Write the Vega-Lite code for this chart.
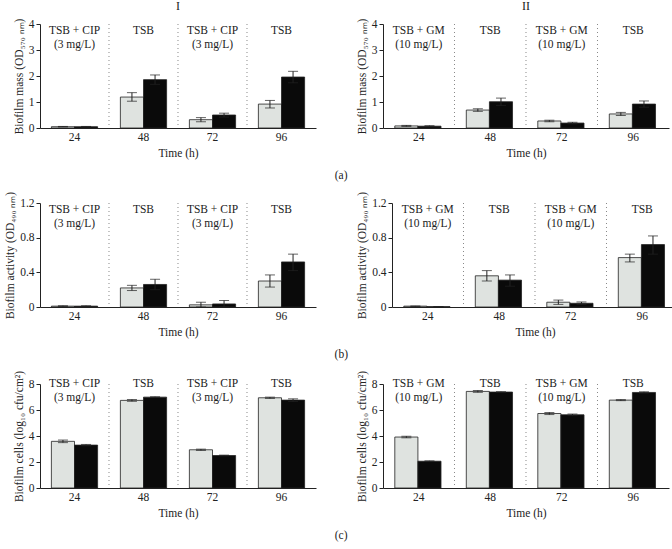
{
  "$schema": "https://vega.github.io/schema/vega-lite/v6.json",
  "padding": {"left": 4, "top": 0, "right": 2, "bottom": 2},
  "background": "white",
  "config": {
    "view": {"stroke": null},
    "font": "Liberation Serif",
    "axis": {"labelFont": "Liberation Serif", "titleFont": "Liberation Serif", "labelFontSize": 11.5, "titleFontSize": 11.5, "titleFontWeight": "normal", "domainColor": "#222", "tickColor": "#222", "labelColor": "#222", "titleColor": "#222", "grid": false},
    "axisX": {"titleFontWeight": "normal"},
    "axisY": {"titleFontWeight": "normal"},
    "title": {"font": "Liberation Serif", "fontSize": 12, "fontWeight": "normal", "color": "#222"}
  },
  "datasets": {
    "bars": [
      {"p": "aI", "t": "24", "s": "A", "v": 0.05, "lo": 0.04, "hi": 0.06},
      {"p": "aI", "t": "24", "s": "B", "v": 0.05, "lo": 0.04, "hi": 0.06},
      {"p": "aI", "t": "48", "s": "A", "v": 1.19, "lo": 1.03, "hi": 1.36},
      {"p": "aI", "t": "48", "s": "B", "v": 1.86, "lo": 1.68, "hi": 2.04},
      {"p": "aI", "t": "72", "s": "A", "v": 0.32, "lo": 0.24, "hi": 0.4},
      {"p": "aI", "t": "72", "s": "B", "v": 0.5, "lo": 0.42, "hi": 0.57},
      {"p": "aI", "t": "96", "s": "A", "v": 0.92, "lo": 0.77, "hi": 1.06},
      {"p": "aI", "t": "96", "s": "B", "v": 1.96, "lo": 1.74, "hi": 2.18},
      {"p": "aII", "t": "24", "s": "A", "v": 0.08, "lo": 0.06, "hi": 0.1},
      {"p": "aII", "t": "24", "s": "B", "v": 0.07, "lo": 0.05, "hi": 0.09},
      {"p": "aII", "t": "48", "s": "A", "v": 0.69, "lo": 0.64, "hi": 0.74},
      {"p": "aII", "t": "48", "s": "B", "v": 1.01, "lo": 0.87, "hi": 1.15},
      {"p": "aII", "t": "72", "s": "A", "v": 0.27, "lo": 0.24, "hi": 0.3},
      {"p": "aII", "t": "72", "s": "B", "v": 0.19, "lo": 0.16, "hi": 0.22},
      {"p": "aII", "t": "96", "s": "A", "v": 0.54, "lo": 0.48, "hi": 0.6},
      {"p": "aII", "t": "96", "s": "B", "v": 0.92, "lo": 0.8, "hi": 1.04},
      {"p": "bI", "t": "24", "s": "A", "v": 0.01, "lo": 0.005, "hi": 0.015},
      {"p": "bI", "t": "24", "s": "B", "v": 0.01, "lo": 0.005, "hi": 0.015},
      {"p": "bI", "t": "48", "s": "A", "v": 0.22, "lo": 0.19, "hi": 0.25},
      {"p": "bI", "t": "48", "s": "B", "v": 0.26, "lo": 0.2, "hi": 0.32},
      {"p": "bI", "t": "72", "s": "A", "v": 0.025, "lo": 0.0, "hi": 0.055},
      {"p": "bI", "t": "72", "s": "B", "v": 0.035, "lo": 0.0, "hi": 0.075},
      {"p": "bI", "t": "96", "s": "A", "v": 0.3, "lo": 0.23, "hi": 0.37},
      {"p": "bI", "t": "96", "s": "B", "v": 0.52, "lo": 0.42, "hi": 0.61},
      {"p": "bII", "t": "24", "s": "A", "v": 0.01, "lo": 0.005, "hi": 0.012},
      {"p": "bII", "t": "24", "s": "B", "v": 0.004, "lo": 0.002, "hi": 0.006},
      {"p": "bII", "t": "48", "s": "A", "v": 0.36, "lo": 0.3, "hi": 0.42},
      {"p": "bII", "t": "48", "s": "B", "v": 0.31, "lo": 0.24, "hi": 0.37},
      {"p": "bII", "t": "72", "s": "A", "v": 0.055, "lo": 0.03, "hi": 0.08},
      {"p": "bII", "t": "72", "s": "B", "v": 0.043, "lo": 0.03, "hi": 0.058},
      {"p": "bII", "t": "96", "s": "A", "v": 0.57, "lo": 0.52, "hi": 0.61},
      {"p": "bII", "t": "96", "s": "B", "v": 0.72, "lo": 0.61, "hi": 0.82},
      {"p": "cI", "t": "24", "s": "A", "v": 3.59, "lo": 3.49, "hi": 3.69},
      {"p": "cI", "t": "24", "s": "B", "v": 3.3, "lo": 3.25, "hi": 3.35},
      {"p": "cI", "t": "48", "s": "A", "v": 6.74, "lo": 6.67, "hi": 6.81},
      {"p": "cI", "t": "48", "s": "B", "v": 6.99, "lo": 6.96, "hi": 7.02},
      {"p": "cI", "t": "72", "s": "A", "v": 2.94, "lo": 2.89, "hi": 2.99},
      {"p": "cI", "t": "72", "s": "B", "v": 2.5, "lo": 2.47, "hi": 2.53},
      {"p": "cI", "t": "96", "s": "A", "v": 6.94, "lo": 6.89, "hi": 6.99},
      {"p": "cI", "t": "96", "s": "B", "v": 6.76, "lo": 6.66, "hi": 6.86},
      {"p": "cII", "t": "24", "s": "A", "v": 3.92, "lo": 3.86, "hi": 3.98},
      {"p": "cII", "t": "24", "s": "B", "v": 2.06, "lo": 2.03, "hi": 2.09},
      {"p": "cII", "t": "48", "s": "A", "v": 7.43, "lo": 7.36, "hi": 7.5},
      {"p": "cII", "t": "48", "s": "B", "v": 7.38, "lo": 7.35, "hi": 7.41},
      {"p": "cII", "t": "72", "s": "A", "v": 5.73, "lo": 5.65, "hi": 5.81},
      {"p": "cII", "t": "72", "s": "B", "v": 5.63, "lo": 5.57, "hi": 5.69},
      {"p": "cII", "t": "96", "s": "A", "v": 6.76, "lo": 6.72, "hi": 6.8},
      {"p": "cII", "t": "96", "s": "B", "v": 7.35, "lo": 7.3, "hi": 7.4}
    ],
    "labels": [
      {"c": "I", "t": "24", "label": "TSB + CIP\n(3 mg/L)"},
      {"c": "I", "t": "48", "label": "TSB"},
      {"c": "I", "t": "72", "label": "TSB + CIP\n(3 mg/L)"},
      {"c": "I", "t": "96", "label": "TSB"},
      {"c": "II", "t": "24", "label": "TSB + GM\n(10 mg/L)"},
      {"c": "II", "t": "48", "label": "TSB"},
      {"c": "II", "t": "72", "label": "TSB + GM\n(10 mg/L)"},
      {"c": "II", "t": "96", "label": "TSB"}
    ],
    "seps": [{"t": "24"}, {"t": "48"}, {"t": "72"}]
  },
  "spacing": 9,
  "vconcat": [
    {
      "title": {"text": "(a)", "orient": "bottom", "anchor": "middle", "fontSize": 11.5, "offset": 11},
      "spacing": 40,
      "hconcat": [
        {
          "title": {"text": "I", "offset": 5},
          "width": 276, "height": 104,
          "encoding": {
            "x": {"field": "t", "type": "nominal", "scale": {"paddingInner": 0.33, "paddingOuter": 0.165}, "axis": {"title": "Time (h)", "titleFontWeight": "normal", "labelAngle": 0, "ticks": false, "labelPadding": 3, "titlePadding": 5}},
            "y": {"type": "quantitative", "scale": {"domain": [0, 4], "nice": false}, "axis": {"title": "Biofilm mass (OD₅₇₀ ₙₘ)", "titleFontWeight": "normal", "values": [0, 1, 2, 3, 4], "tickSize": 4, "labelPadding": 2, "titlePadding": 4}}
          },
          "layer": [
            {"data": {"name": "seps"}, "mark": {"type": "rule", "strokeDash": [1, 3], "color": "#888"}, "encoding": {"x": {"field": "t", "type": "nominal", "bandPosition": 1.246}, "y": null}},
            {"data": {"name": "bars"}, "transform": [{"filter": "datum.p == 'aI'"}], "mark": {"type": "bar", "stroke": "#222", "strokeWidth": 0.8}, "encoding": {"xOffset": {"field": "s"}, "y": {"field": "v", "type": "quantitative"}, "color": {"field": "s", "scale": {"range": ["#dfe3e0", "#0a0a0a"]}, "legend": null}}},
            {"data": {"name": "bars"}, "transform": [{"filter": "datum.p == 'aI'"}], "mark": {"type": "rule", "color": "#222"}, "encoding": {"xOffset": {"field": "s"}, "y": {"field": "lo", "type": "quantitative"}, "y2": {"field": "hi"}}},
            {"data": {"name": "bars"}, "transform": [{"filter": "datum.p == 'aI'"}], "mark": {"type": "tick", "color": "#222", "size": 10, "thickness": 1}, "encoding": {"xOffset": {"field": "s"}, "y": {"field": "hi", "type": "quantitative"}}},
            {"data": {"name": "bars"}, "transform": [{"filter": "datum.p == 'aI'"}], "mark": {"type": "tick", "color": "#222", "size": 10, "thickness": 1}, "encoding": {"xOffset": {"field": "s"}, "y": {"field": "lo", "type": "quantitative"}}},
            {"data": {"name": "labels"}, "transform": [{"filter": "datum.c == 'I'"}], "mark": {"type": "text", "baseline": "top", "lineBreak": "\n", "fontSize": 11.5, "lineHeight": 14, "dy": 1, "color": "#222"}, "encoding": {"y": {"datum": 4, "type": "quantitative"}, "text": {"field": "label"}}}
          ]
        },
        {
          "title": {"text": "II", "offset": 5},
          "width": 286, "height": 104,
          "encoding": {
            "x": {"field": "t", "type": "nominal", "scale": {"paddingInner": 0.33, "paddingOuter": 0.165}, "axis": {"title": "Time (h)", "titleFontWeight": "normal", "labelAngle": 0, "ticks": false, "labelPadding": 3, "titlePadding": 5}},
            "y": {"type": "quantitative", "scale": {"domain": [0, 4], "nice": false}, "axis": {"title": "Biofilm mass (OD₅₇₀ ₙₘ)", "titleFontWeight": "normal", "values": [0, 1, 2, 3, 4], "tickSize": 4, "labelPadding": 2, "titlePadding": 4}}
          },
          "layer": [
            {"data": {"name": "seps"}, "mark": {"type": "rule", "strokeDash": [1, 3], "color": "#888"}, "encoding": {"x": {"field": "t", "type": "nominal", "bandPosition": 1.246}, "y": null}},
            {"data": {"name": "bars"}, "transform": [{"filter": "datum.p == 'aII'"}], "mark": {"type": "bar", "stroke": "#222", "strokeWidth": 0.8}, "encoding": {"xOffset": {"field": "s"}, "y": {"field": "v", "type": "quantitative"}, "color": {"field": "s", "scale": {"range": ["#dfe3e0", "#0a0a0a"]}, "legend": null}}},
            {"data": {"name": "bars"}, "transform": [{"filter": "datum.p == 'aII'"}], "mark": {"type": "rule", "color": "#222"}, "encoding": {"xOffset": {"field": "s"}, "y": {"field": "lo", "type": "quantitative"}, "y2": {"field": "hi"}}},
            {"data": {"name": "bars"}, "transform": [{"filter": "datum.p == 'aII'"}], "mark": {"type": "tick", "color": "#222", "size": 10, "thickness": 1}, "encoding": {"xOffset": {"field": "s"}, "y": {"field": "hi", "type": "quantitative"}}},
            {"data": {"name": "bars"}, "transform": [{"filter": "datum.p == 'aII'"}], "mark": {"type": "tick", "color": "#222", "size": 10, "thickness": 1}, "encoding": {"xOffset": {"field": "s"}, "y": {"field": "lo", "type": "quantitative"}}},
            {"data": {"name": "labels"}, "transform": [{"filter": "datum.c == 'II'"}], "mark": {"type": "text", "baseline": "top", "lineBreak": "\n", "fontSize": 11.5, "lineHeight": 14, "dy": 1, "color": "#222"}, "encoding": {"y": {"datum": 4, "type": "quantitative"}, "text": {"field": "label"}}}
          ]
        }
      ]
    },
    {
      "title": {"text": "(b)", "orient": "bottom", "anchor": "middle", "fontSize": 11.5, "offset": 11},
      "spacing": 40,
      "hconcat": [
        {
          "width": 276, "height": 104,
          "encoding": {
            "x": {"field": "t", "type": "nominal", "scale": {"paddingInner": 0.33, "paddingOuter": 0.165}, "axis": {"title": "Time (h)", "titleFontWeight": "normal", "labelAngle": 0, "ticks": false, "labelPadding": 3, "titlePadding": 5}},
            "y": {"type": "quantitative", "scale": {"domain": [0, 1.2], "nice": false}, "axis": {"title": "Biofilm activity (OD₄₉₀ ₙₘ)", "titleFontWeight": "normal", "values": [0, 0.4, 0.8, 1.2], "labelExpr": "datum.value == 0 ? '0' : format(datum.value, '.1f')", "tickSize": 4, "labelPadding": 2, "titlePadding": 4}}
          },
          "layer": [
            {"data": {"name": "seps"}, "mark": {"type": "rule", "strokeDash": [1, 3], "color": "#888"}, "encoding": {"x": {"field": "t", "type": "nominal", "bandPosition": 1.246}, "y": null}},
            {"data": {"name": "bars"}, "transform": [{"filter": "datum.p == 'bI'"}], "mark": {"type": "bar", "stroke": "#222", "strokeWidth": 0.8}, "encoding": {"xOffset": {"field": "s"}, "y": {"field": "v", "type": "quantitative"}, "color": {"field": "s", "scale": {"range": ["#dfe3e0", "#0a0a0a"]}, "legend": null}}},
            {"data": {"name": "bars"}, "transform": [{"filter": "datum.p == 'bI'"}], "mark": {"type": "rule", "color": "#222"}, "encoding": {"xOffset": {"field": "s"}, "y": {"field": "lo", "type": "quantitative"}, "y2": {"field": "hi"}}},
            {"data": {"name": "bars"}, "transform": [{"filter": "datum.p == 'bI'"}], "mark": {"type": "tick", "color": "#222", "size": 10, "thickness": 1}, "encoding": {"xOffset": {"field": "s"}, "y": {"field": "hi", "type": "quantitative"}}},
            {"data": {"name": "bars"}, "transform": [{"filter": "datum.p == 'bI'"}], "mark": {"type": "tick", "color": "#222", "size": 10, "thickness": 1}, "encoding": {"xOffset": {"field": "s"}, "y": {"field": "lo", "type": "quantitative"}}},
            {"data": {"name": "labels"}, "transform": [{"filter": "datum.c == 'I'"}], "mark": {"type": "text", "baseline": "top", "lineBreak": "\n", "fontSize": 11.5, "lineHeight": 14, "dy": 1, "color": "#222"}, "encoding": {"y": {"datum": 1.2, "type": "quantitative"}, "text": {"field": "label"}}}
          ]
        },
        {
          "width": 286, "height": 104,
          "encoding": {
            "x": {"field": "t", "type": "nominal", "scale": {"paddingInner": 0.33, "paddingOuter": 0.165}, "axis": {"title": "Time (h)", "titleFontWeight": "normal", "labelAngle": 0, "ticks": false, "labelPadding": 3, "titlePadding": 5}},
            "y": {"type": "quantitative", "scale": {"domain": [0, 1.2], "nice": false}, "axis": {"title": "Biofilm activity (OD₄₉₀ ₙₘ)", "titleFontWeight": "normal", "values": [0, 0.4, 0.8, 1.2], "labelExpr": "datum.value == 0 ? '0' : format(datum.value, '.1f')", "tickSize": 4, "labelPadding": 2, "titlePadding": 4}}
          },
          "layer": [
            {"data": {"name": "seps"}, "mark": {"type": "rule", "strokeDash": [1, 3], "color": "#888"}, "encoding": {"x": {"field": "t", "type": "nominal", "bandPosition": 1.246}, "y": null}},
            {"data": {"name": "bars"}, "transform": [{"filter": "datum.p == 'bII'"}], "mark": {"type": "bar", "stroke": "#222", "strokeWidth": 0.8}, "encoding": {"xOffset": {"field": "s"}, "y": {"field": "v", "type": "quantitative"}, "color": {"field": "s", "scale": {"range": ["#dfe3e0", "#0a0a0a"]}, "legend": null}}},
            {"data": {"name": "bars"}, "transform": [{"filter": "datum.p == 'bII'"}], "mark": {"type": "rule", "color": "#222"}, "encoding": {"xOffset": {"field": "s"}, "y": {"field": "lo", "type": "quantitative"}, "y2": {"field": "hi"}}},
            {"data": {"name": "bars"}, "transform": [{"filter": "datum.p == 'bII'"}], "mark": {"type": "tick", "color": "#222", "size": 10, "thickness": 1}, "encoding": {"xOffset": {"field": "s"}, "y": {"field": "hi", "type": "quantitative"}}},
            {"data": {"name": "bars"}, "transform": [{"filter": "datum.p == 'bII'"}], "mark": {"type": "tick", "color": "#222", "size": 10, "thickness": 1}, "encoding": {"xOffset": {"field": "s"}, "y": {"field": "lo", "type": "quantitative"}}},
            {"data": {"name": "labels"}, "transform": [{"filter": "datum.c == 'II'"}], "mark": {"type": "text", "baseline": "top", "lineBreak": "\n", "fontSize": 11.5, "lineHeight": 14, "dy": 1, "color": "#222"}, "encoding": {"y": {"datum": 1.2, "type": "quantitative"}, "text": {"field": "label"}}}
          ]
        }
      ]
    },
    {
      "title": {"text": "(c)", "orient": "bottom", "anchor": "middle", "fontSize": 11.5, "offset": 11},
      "spacing": 40,
      "hconcat": [
        {
          "width": 276, "height": 104,
          "encoding": {
            "x": {"field": "t", "type": "nominal", "scale": {"paddingInner": 0.33, "paddingOuter": 0.165}, "axis": {"title": "Time (h)", "titleFontWeight": "normal", "labelAngle": 0, "ticks": false, "labelPadding": 3, "titlePadding": 5}},
            "y": {"type": "quantitative", "scale": {"domain": [0, 8], "nice": false}, "axis": {"title": "Biofilm cells (log₁₀ cfu/cm²)", "titleFontWeight": "normal", "values": [0, 2, 4, 6, 8], "tickSize": 4, "labelPadding": 2, "titlePadding": 4}}
          },
          "layer": [
            {"data": {"name": "seps"}, "mark": {"type": "rule", "strokeDash": [1, 3], "color": "#888"}, "encoding": {"x": {"field": "t", "type": "nominal", "bandPosition": 1.246}, "y": null}},
            {"data": {"name": "bars"}, "transform": [{"filter": "datum.p == 'cI'"}], "mark": {"type": "bar", "stroke": "#222", "strokeWidth": 0.8}, "encoding": {"xOffset": {"field": "s"}, "y": {"field": "v", "type": "quantitative"}, "color": {"field": "s", "scale": {"range": ["#dfe3e0", "#0a0a0a"]}, "legend": null}}},
            {"data": {"name": "bars"}, "transform": [{"filter": "datum.p == 'cI'"}], "mark": {"type": "rule", "color": "#222"}, "encoding": {"xOffset": {"field": "s"}, "y": {"field": "lo", "type": "quantitative"}, "y2": {"field": "hi"}}},
            {"data": {"name": "bars"}, "transform": [{"filter": "datum.p == 'cI'"}], "mark": {"type": "tick", "color": "#222", "size": 10, "thickness": 1}, "encoding": {"xOffset": {"field": "s"}, "y": {"field": "hi", "type": "quantitative"}}},
            {"data": {"name": "bars"}, "transform": [{"filter": "datum.p == 'cI'"}], "mark": {"type": "tick", "color": "#222", "size": 10, "thickness": 1}, "encoding": {"xOffset": {"field": "s"}, "y": {"field": "lo", "type": "quantitative"}}},
            {"data": {"name": "labels"}, "transform": [{"filter": "datum.c == 'I'"}], "mark": {"type": "text", "baseline": "middle", "lineBreak": "\n", "fontSize": 11.5, "lineHeight": 14, "dy": 0, "color": "#222"}, "encoding": {"y": {"datum": 8, "type": "quantitative"}, "text": {"field": "label"}}}
          ]
        },
        {
          "width": 286, "height": 104,
          "encoding": {
            "x": {"field": "t", "type": "nominal", "scale": {"paddingInner": 0.33, "paddingOuter": 0.165}, "axis": {"title": "Time (h)", "titleFontWeight": "normal", "labelAngle": 0, "ticks": false, "labelPadding": 3, "titlePadding": 5}},
            "y": {"type": "quantitative", "scale": {"domain": [0, 8], "nice": false}, "axis": {"title": "Biofilm cells (log₁₀ cfu/cm²)", "titleFontWeight": "normal", "values": [0, 2, 4, 6, 8], "tickSize": 4, "labelPadding": 2, "titlePadding": 4}}
          },
          "layer": [
            {"data": {"name": "seps"}, "mark": {"type": "rule", "strokeDash": [1, 3], "color": "#888"}, "encoding": {"x": {"field": "t", "type": "nominal", "bandPosition": 1.246}, "y": null}},
            {"data": {"name": "bars"}, "transform": [{"filter": "datum.p == 'cII'"}], "mark": {"type": "bar", "stroke": "#222", "strokeWidth": 0.8}, "encoding": {"xOffset": {"field": "s"}, "y": {"field": "v", "type": "quantitative"}, "color": {"field": "s", "scale": {"range": ["#dfe3e0", "#0a0a0a"]}, "legend": null}}},
            {"data": {"name": "bars"}, "transform": [{"filter": "datum.p == 'cII'"}], "mark": {"type": "rule", "color": "#222"}, "encoding": {"xOffset": {"field": "s"}, "y": {"field": "lo", "type": "quantitative"}, "y2": {"field": "hi"}}},
            {"data": {"name": "bars"}, "transform": [{"filter": "datum.p == 'cII'"}], "mark": {"type": "tick", "color": "#222", "size": 10, "thickness": 1}, "encoding": {"xOffset": {"field": "s"}, "y": {"field": "hi", "type": "quantitative"}}},
            {"data": {"name": "bars"}, "transform": [{"filter": "datum.p == 'cII'"}], "mark": {"type": "tick", "color": "#222", "size": 10, "thickness": 1}, "encoding": {"xOffset": {"field": "s"}, "y": {"field": "lo", "type": "quantitative"}}},
            {"data": {"name": "labels"}, "transform": [{"filter": "datum.c == 'II'"}], "mark": {"type": "text", "baseline": "middle", "lineBreak": "\n", "fontSize": 11.5, "lineHeight": 14, "dy": 0, "color": "#222"}, "encoding": {"y": {"datum": 8, "type": "quantitative"}, "text": {"field": "label"}}}
          ]
        }
      ]
    }
  ]
}
